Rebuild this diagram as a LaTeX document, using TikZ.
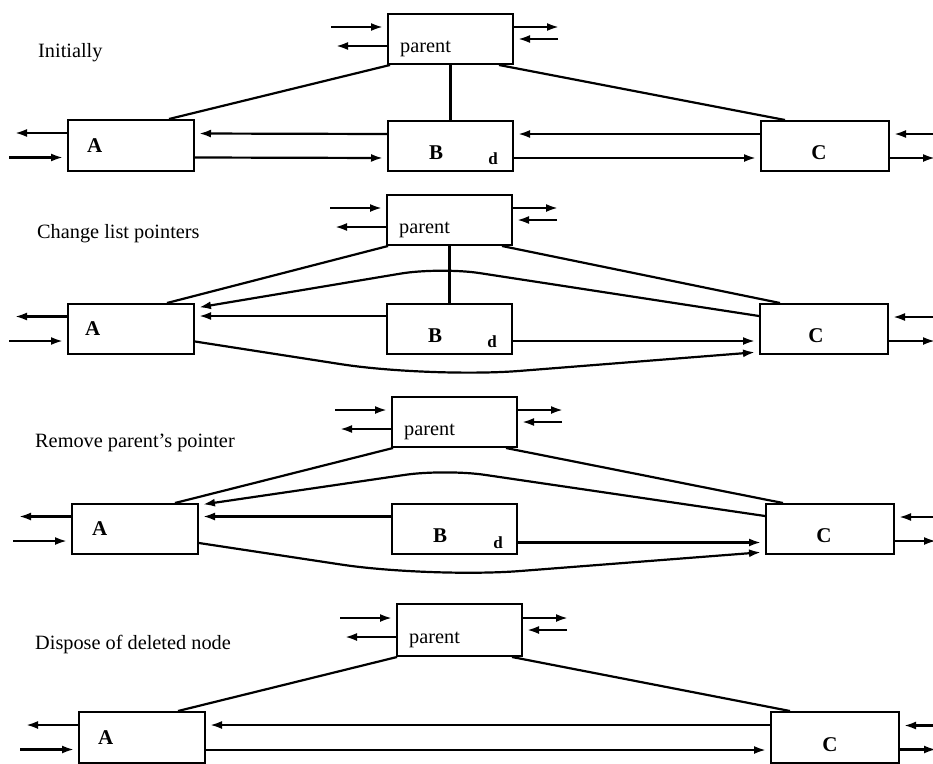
\documentclass[tikz,border=0pt]{standalone}
\usepackage{fontspec}
\setmainfont{Liberation Serif}
\usetikzlibrary{arrows.meta}
\newcommand{\mypstubs}[1]{%
  \draw[arr] ([yshift=12pt]#1.west) ++(-56,0) -- ([yshift=12pt]#1.west);
  \draw[arr] ([yshift=-7pt]#1.west) -- ++(-55,0);
  \draw[arr] ([yshift=12pt]#1.east) -- ++(49,0);
  \draw[arr] (#1.east) ++(44,0) -- (#1.east);}
\newcommand{\myastubs}[1]{%
  \draw[arr] ([yshift=12.5pt]#1.west) -- ++(-56,0);
  \draw[arr] ([yshift=-12pt]#1.west) ++(-58,0) -- ([yshift=-12pt]#1.west);}
\newcommand{\mycstubs}[2]{%
  \draw[arr] ([yshift=12pt]#1.east) ++(#2,0) -- ([yshift=12pt]#1.east);
  \draw[arr] ([yshift=-12pt]#1.east) -- ++(#2+4,0);}
\begin{document}
\begin{tikzpicture}[x=1pt,y=-1pt,
  box/.style={draw,line width=2pt,rectangle,inner sep=0pt,anchor=north west,minimum height=50pt},
  pbox/.style={box,minimum width=125pt},
  abox/.style={box,minimum width=126pt},
  cbox/.style={box,minimum width=128pt},
  ln/.style={line width=2.2pt},
  arr/.style={ln,-{Latex[length=12pt,width=8pt]},shorten >=4pt},
  captxt/.style={anchor=base west,inner sep=0pt,font=\fontsize{20.3}{24}\selectfont},
  ptxt/.style={anchor=base west,inner sep=0pt,font=\fontsize{20.3}{24}\selectfont},
  ltr/.style={inner sep=0pt,font=\fontsize{21}{24}\selectfont\bfseries},
  dtxt/.style={inner sep=0pt,anchor=east,font=\fontsize{17}{19}\selectfont\bfseries}]
\useasboundingbox (0,0) rectangle (933,763);

% ---------------- Panel 1 ----------------
\node[captxt] (L1) at (38,57) {Initially};
\node[pbox] (P1) at (387,13) {};
\node[abox,minimum height=51pt] (A1) at (67,119) {};
\node[pbox] (B1) at (387,120) {};
\node[cbox] (C1) at (760,120) {};
\node[ptxt] (tP1) at ([xshift=13pt,yshift=-39pt]P1.north west) {parent};
\node[ltr,anchor=west] (tA1) at ([xshift=20pt]A1.west) {A};
\node[ltr,anchor=west] (tB1) at ([xshift=42pt,yshift=-7pt]B1.west) {B};
\node[dtxt] (tD1) at ([xshift=-16pt,yshift=-13pt]B1.east) {d};
\node[ltr] (tC1) at ([xshift=-6pt,yshift=-7pt]C1.center) {C};
\mypstubs{P1}
\myastubs{A1}
\mycstubs{C1}{45}
\draw[arr] ([yshift=12pt]B1.west) -- ([yshift=12pt]A1.east);
\draw[arr] ([yshift=-12pt]A1.east) -- ([yshift=-12pt]B1.west);
\draw[arr] ([yshift=12pt]C1.west) -- ([yshift=12pt]B1.east);
\draw[arr] ([yshift=-12pt]B1.east) -- ([yshift=-12pt]C1.west);
\draw[ln] (P1.south) -- (B1.north);
\draw[ln] ([xshift=3pt]P1.south west) -- ([xshift=-26pt]A1.north east);
\draw[ln] ([xshift=-15pt]P1.south east) -- ([xshift=25pt]C1.north west);

% ---------------- Panel 2 ----------------
\node[captxt] (L2) at (37,238) {Change list pointers};
\node[pbox] (P2) at (386,194) {};
\node[abox] (A2) at (67,303) {};
\node[pbox] (B2) at (386,303) {};
\node[cbox] (C2) at (759,303) {};
\node[ptxt] (tP2) at ([xshift=13pt,yshift=-39pt]P2.north west) {parent};
\node[ltr,anchor=west] (tA2) at ([xshift=18pt]A2.west) {A};
\node[ltr,anchor=west] (tB2) at ([xshift=42pt,yshift=-7pt]B2.west) {B};
\node[dtxt] (tD2) at ([xshift=-16pt,yshift=-13pt]B2.east) {d};
\node[ltr] (tC2) at ([xshift=-8pt,yshift=-7pt]C2.center) {C};
\mypstubs{P2}
\myastubs{A2}
\mycstubs{C2}{46}
\coordinate (w2a) at (440,267);
\coordinate (w2b) at (430,378);
\draw[arr,rounded corners=40pt] ([yshift=13pt]C2.west) -- (w2a) -- ([yshift=21pt]A2.east);
\draw[arr] ([yshift=13pt]B2.west) -- ([yshift=13pt]A2.east);
\draw[arr,rounded corners=90pt] ([yshift=-12.5pt]A2.east) -- (w2b) -- ([yshift=-23pt]C2.west);
\draw[arr] ([yshift=-12pt]B2.east) -- ([yshift=-12pt]C2.west);
\draw[ln] (P2.south) -- (B2.north);
\draw[ln] ([xshift=2pt]P2.south west) -- ([xshift=-28pt]A2.north east);
\draw[ln] ([xshift=-11pt]P2.south east) -- ([xshift=21pt]C2.north west);

% ---------------- Panel 3 ----------------
\node[captxt] (L3) at (35,447) {Remove parent's pointer};
\node[pbox] (P3) at (391,396) {};
\node[abox] (A3) at (71,503) {};
\node[pbox] (B3) at (391,503) {};
\node[cbox] (C3) at (765,503) {};
\node[ptxt] (tP3) at ([xshift=13pt,yshift=-39pt]P3.north west) {parent};
\node[ltr,anchor=west] (tA3) at ([xshift=21pt]A3.west) {A};
\node[ltr,anchor=west] (tB3) at ([xshift=42pt,yshift=-7pt]B3.west) {B};
\node[dtxt] (tD3) at ([xshift=-15pt,yshift=-14pt]B3.east) {d};
\node[ltr] (tC3) at ([xshift=-6pt,yshift=-7pt]C3.center) {C};
\mypstubs{P3}
\myastubs{A3}
\mycstubs{C3}{41}
\coordinate (w3a) at (445,469);
\coordinate (w3b) at (430,578);
\draw[arr,rounded corners=40pt] ([yshift=13pt]C3.west) -- (w3a) -- ([yshift=24pt]A3.east);
\draw[arr] ([yshift=12.5pt]B3.west) -- ([yshift=12.5pt]A3.east);
\draw[arr,rounded corners=90pt] ([yshift=-14pt]A3.east) -- (w3b) -- ([yshift=-23pt]C3.west);
\draw[arr] ([yshift=-13.5pt]B3.east) -- ([yshift=-13.5pt]C3.west);
\draw[ln] ([xshift=2pt]P3.south west) -- ([xshift=-24pt]A3.north east);
\draw[ln] ([xshift=-12pt]P3.south east) -- ([xshift=18pt]C3.north west);

% ---------------- Panel 4 ----------------
\node[captxt] (L4) at (35,649) {Dispose of deleted node};
\node[pbox,minimum height=52pt] (P4) at (396,603) {};
\node[abox,minimum height=51pt] (A4) at (78,711) {};
\node[cbox,minimum height=51pt] (C4) at (770,711) {};
\node[ptxt] (tP4) at ([xshift=13pt,yshift=-40pt]P4.north west) {parent};
\node[ltr,anchor=west] (tA4) at ([xshift=20pt]A4.west) {A};
\node[ltr] (tC4) at ([xshift=-5pt,yshift=-7pt]C4.center) {C};
\mypstubs{P4}
\myastubs{A4}
\mycstubs{C4}{36}
\draw[arr] ([yshift=12.5pt]C4.west) -- ([yshift=12.5pt]A4.east);
\draw[arr] ([yshift=-12.5pt]A4.east) -- ([yshift=-12.5pt]C4.west);
\draw[ln] ([xshift=1pt]P4.south west) -- ([xshift=-28pt]A4.north east);
\draw[ln] ([xshift=-11pt]P4.south east) -- ([xshift=20pt]C4.north west);
\end{tikzpicture}
\end{document}
